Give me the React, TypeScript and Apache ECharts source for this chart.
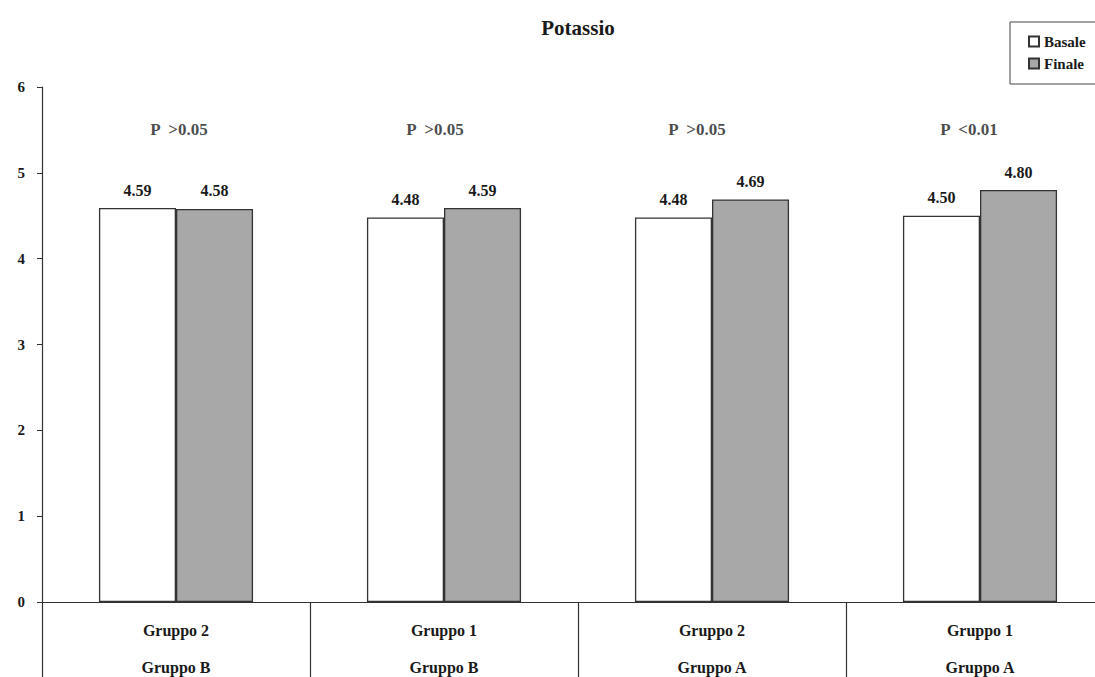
import React, { useEffect, useRef } from "react";
import * as echarts from "echarts";

const subGroups = ["Gruppo 2", "Gruppo 1", "Gruppo 2", "Gruppo 1"];
const mainGroups = ["Gruppo B", "Gruppo B", "Gruppo A", "Gruppo A"];
const basale = [4.59, 4.48, 4.48, 4.5];
const finale = [4.58, 4.59, 4.69, 4.8];
const pLabels = ["P  >0.05", "P  >0.05", "P  >0.05", "P  <0.01"];
const pLevel = 5.5;
const yTicks = [0, 1, 2, 3, 4, 5, 6];

// horizontal nudges of the P annotations (style only)
const pLabelShift = [3, -9, -15, -11];

const FONT = "Times New Roman, Liberation Serif, DejaVu Serif, serif";

export default function App() {
  const ref = useRef<HTMLDivElement>(null);
  useEffect(() => {
    document.body.style.margin = "0";
    const chart = echarts.init(ref.current!, null, { renderer: "svg" });
    const categories = subGroups.map((s, i) => s + "\n" + mainGroups[i]);
    chart.setOption({
      animation: false,
      backgroundColor: "#ffffff",
      textStyle: { fontFamily: FONT },
      title: {
        text: "Potassio",
        left: 573,
        textAlign: "center",
        top: 12,
        textStyle: { fontFamily: FONT, fontWeight: "bold", fontSize: 21, color: "#1a1a1a" },
      },
      legend: {
        orient: "vertical",
        left: 1010,
        top: 22,
        padding: [12, 40, 13, 18],
        itemGap: 7,
        itemWidth: 10,
        itemHeight: 10,
        icon: "rect",
        borderColor: "#444",
        borderWidth: 1,
        data: ["Basale", "Finale"],
        textStyle: { fontFamily: FONT, fontWeight: "bold", fontSize: 15, color: "#1a1a1a" },
      },
      grid: { left: 42, top: 87, width: 1072, height: 515, outerBoundsMode: "none", containLabel: false },
      xAxis: {
        type: "category",
        data: categories,
        axisLine: { lineStyle: { color: "#333", width: 1.2 } },
        axisTick: { show: true, length: 76, lineStyle: { color: "#333", width: 1.2 } },
        axisLabel: {
          margin: 10,
          lineHeight: 37,
          fontFamily: FONT,
          fontWeight: "bold",
          fontSize: 16,
          color: "#1a1a1a",
        },
      },
      yAxis: {
        type: "value",
        min: 0,
        max: 6,
        interval: 1,
        splitLine: { show: false },
        axisLine: { show: true, lineStyle: { color: "#333", width: 1.2 } },
        axisTick: { show: true, length: 5, lineStyle: { color: "#333" } },
        axisLabel: {
          margin: 17,
          fontFamily: FONT,
          fontWeight: "bold",
          fontSize: 15,
          color: "#1a1a1a",
          formatter: (v: number) => (yTicks.includes(v) ? String(v) : ""),
        },
      },
      series: [
        {
          name: "Basale",
          type: "bar",
          data: basale,
          barGap: "0%",
          barCategoryGap: "42.5%",
          itemStyle: { color: "#ffffff", borderColor: "#333", borderWidth: 1.3 },
          label: {
            show: true,
            position: "top",
            distance: 10,
            formatter: (p: any) => p.value.toFixed(2),
            fontFamily: FONT,
            fontWeight: "bold",
            fontSize: 16,
            color: "#1a1a1a",
          },
        },
        {
          name: "Finale",
          type: "bar",
          data: finale,
          barGap: "0%",
          barCategoryGap: "42.5%",
          itemStyle: { color: "#a8a8a8", borderColor: "#333", borderWidth: 1.3 },
          label: {
            show: true,
            position: "top",
            distance: 10,
            formatter: (p: any) => p.value.toFixed(2),
            fontFamily: FONT,
            fontWeight: "bold",
            fontSize: 16,
            color: "#1a1a1a",
          },
        },
        {
          name: "P",
          type: "scatter",
          symbolSize: 0,
          silent: true,
          data: pLabels.map((_, i) => ({
            value: pLevel,
            label: { offset: [pLabelShift[i], 0] },
          })),
          label: {
            show: true,
            position: "inside",
            formatter: (p: any) => pLabels[p.dataIndex],
            fontFamily: FONT,
            fontWeight: "bold",
            fontSize: 17,
            color: "#1a1a1a",
          },
        },
      ],
    });
    return () => chart.dispose();
  }, []);
  return <div ref={ref} style={{ width: 1095, height: 677 }} />;
}
